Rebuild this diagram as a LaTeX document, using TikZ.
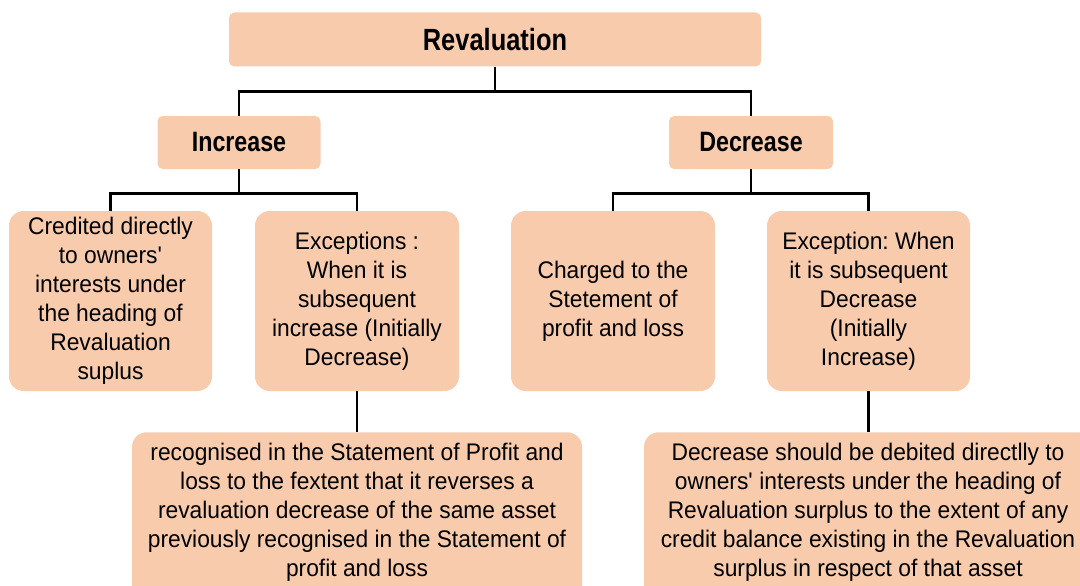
\documentclass[tikz,border=0pt]{standalone}
\usepackage{fontspec}
\setmainfont{Liberation Sans}[FakeStretch=0.95]
\newfontfamily\headfont{Liberation Sans}[FakeStretch=0.83]
\definecolor{peach}{HTML}{F8CBAD}
\frenchspacing
\begin{document}
\begin{tikzpicture}[x=0.75pt,y=-0.75pt,
  head/.style={fill=peach, rounded corners=4pt, inner sep=0pt, align=center},
  leaf/.style={fill=peach, rounded corners=11pt, inner sep=0pt, align=center,
    minimum height=135pt, font=\fontsize{18}{21.75}\selectfont},
  note/.style={fill=peach, rounded corners=11pt, inner xsep=0pt, inner ysep=8pt,
    align=center, anchor=north, font=\fontsize{18}{21.75}\selectfont},
  link/.style={line width=2.2pt}]
\useasboundingbox (0,0) rectangle (1080,585);
% top levels
\node[head, minimum width=399pt, minimum height=40.5pt,
  font=\headfont\bfseries\fontsize{23}{27}\selectfont] (reval) at (495,39.5) {Revaluation};
\node[head, minimum width=122.25pt, minimum height=39.75pt,
  font=\headfont\bfseries\fontsize{21}{25}\selectfont] (incr) at (239,142.5) {Increase};
\node[head, minimum width=123pt, minimum height=39.75pt,
  font=\headfont\bfseries\fontsize{21}{25}\selectfont] (decr) at (751,142.5) {Decrease};
% third level
\node[leaf, minimum width=152.25pt] (credit) at (110.5,301)
  {Credited directly\\to owners\textquotesingle\\interests under\\the heading of\\Revaluation\\suplus};
\node[leaf, minimum width=153pt] (excinc) at (357,301)
  {Exceptions :\\When it is\\subsequent\\increase (Initially\\Decrease)};
\node[leaf, minimum width=153pt] (charge) at (613,301)
  {Charged to the\\Stetement of\\profit and loss};
\node[leaf, minimum width=152.25pt] (excdec) at (868.5,301)
  {Exception: When\\it is subsequent\\Decrease\\(Initially\\Increase)};
% bottom notes (they run off the lower edge)
\node[note, minimum width=337.5pt] (recog) at (357,432)
  {recognised in the Statement of Profit and\\loss to the fextent that it reverses a\\revaluation decrease of the same asset\\previously recognised in the Statement of\\profit and loss\\[-6pt]\strut};
\node[note, minimum width=336pt] (debit) at (868,432)
  {Decrease should be debited directlly to\\owners\textquotesingle{} interests under the heading of\\Revaluation surplus to the extent of any\\credit balance existing in the Revaluation\\surplus in respect of that asset\\[-6pt]\strut};
% connectors
\draw[link] (reval.south) -- ++(0,25) -| (incr.north);
\draw[link] (reval.south) -- ++(0,25) -| (decr.north);
\draw[link] (incr.south) -- ++(0,24) -| (credit.north);
\draw[link] (incr.south) -- ++(0,24) -| (excinc.north);
\draw[link] (decr.south) -- ++(0,24) -| (charge.north);
\draw[link] (decr.south) -- ++(0,24) -| (excdec.north);
\draw[link] (excinc.south) -- (excinc.south |- recog.north);
\draw[link] (excdec.south) -- (excdec.south |- debit.north);
\end{tikzpicture}
\end{document}
